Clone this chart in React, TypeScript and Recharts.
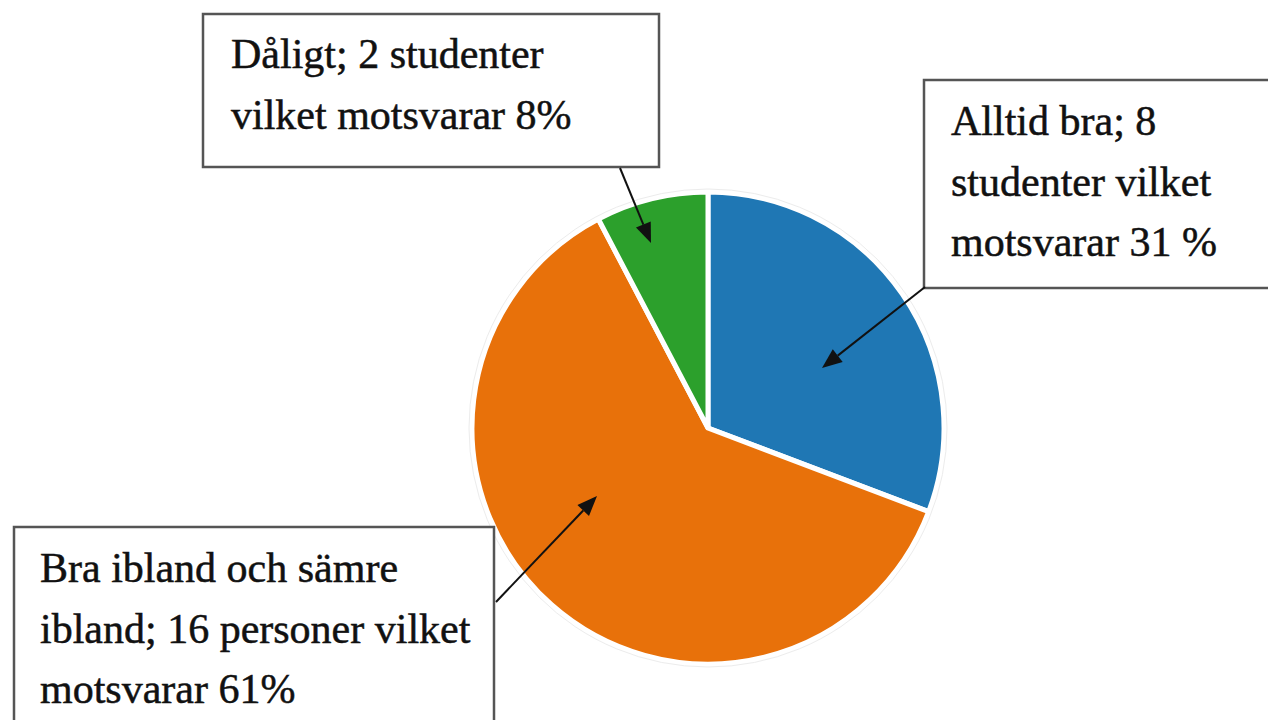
import React from "react";
import { PieChart, Pie, Cell } from "recharts";

const categories = ["Alltid bra", "Bra ibland och sämre ibland", "Dåligt"];
const counts = [8, 16, 2];
const colors = ["#1f77b4", "#e8710a", "#2ca02c"];

const boxLines = [
  ["Alltid bra; 8", "studenter vilket", "motsvarar 31 %"],
  ["Bra ibland och sämre", "ibland; 16 personer vilket", "motsvarar 61%"],
  ["Dåligt; 2 studenter", "vilket motsvarar 8%"],
];

const data = categories.map((name, i) => ({ name, value: counts[i] }));

// annotation layout (boxes + arrows), in page pixels
const boxes = [
  { x: 924, y: 80, w: 352, h: 208, tx: 951, ty: 135, from: [925, 287], to: [822, 368] },
  { x: 14, y: 527, w: 480, h: 210, tx: 40, ty: 582, from: [496, 602], to: [597, 496] },
  { x: 203, y: 14, w: 456, h: 153, tx: 231, ty: 68, from: [620, 168], to: [651, 243] },
];

const W = 1268;
const H = 720;

function Arrow({ from, to }: { from: number[]; to: number[] }) {
  const [x1, y1] = from;
  const [x2, y2] = to;
  const dx = x2 - x1;
  const dy = y2 - y1;
  const len = Math.sqrt(dx * dx + dy * dy);
  const ux = dx / len;
  const uy = dy / len;
  const hl = 20;
  const hw = 8;
  const bx = x2 - ux * hl;
  const by = y2 - uy * hl;
  const p1 = [bx - uy * hw, by + ux * hw];
  const p2 = [bx + uy * hw, by - ux * hw];
  return (
    <g>
      <line x1={x1} y1={y1} x2={bx} y2={by} stroke="#111" strokeWidth={2} />
      <polygon points={`${x2},${y2} ${p1[0]},${p1[1]} ${p2[0]},${p2[1]}`} fill="#111" />
    </g>
  );
}

export default function App() {
  return (
    <div style={{ position: "absolute", left: 0, top: 0, width: W, height: H, background: "#fff", overflow: "hidden" }}>
      <PieChart width={W} height={H} margin={{ top: 0, right: 0, bottom: 0, left: 0 }}>
        <Pie
          data={data}
          dataKey="value"
          nameKey="name"
          cx={708}
          cy={428}
          outerRadius={236}
          innerRadius={0}
          startAngle={90}
          endAngle={-270}
          stroke="#ffffff"
          strokeWidth={5}
          isAnimationActive={false}
          label={false}
          labelLine={false}
        >
          {data.map((d, i) => (
            <Cell key={d.name} fill={colors[i]} />
          ))}
        </Pie>
      </PieChart>
      <svg width={W} height={H} style={{ position: "absolute", left: 0, top: 0, pointerEvents: "none" }}>
        <circle cx={708} cy={428} r={239} fill="none" stroke="#ececec" strokeWidth={1} />
        {boxes.map((b, i) => (
          <g key={i}>
            <rect x={b.x} y={b.y} width={b.w} height={b.h} fill="#fff" stroke="#555" strokeWidth={2.5} />
            {boxLines[i].map((t, j) => (
              <text
                key={j}
                x={b.tx}
                y={b.ty + j * 60.5}
                fontFamily="'Liberation Serif', serif"
                fontSize={42}
                fill="#111"
                stroke="#111"
                strokeWidth={0.5}
              >
                {t}
              </text>
            ))}
            <Arrow from={b.from} to={b.to} />
          </g>
        ))}
      </svg>
    </div>
  );
}
